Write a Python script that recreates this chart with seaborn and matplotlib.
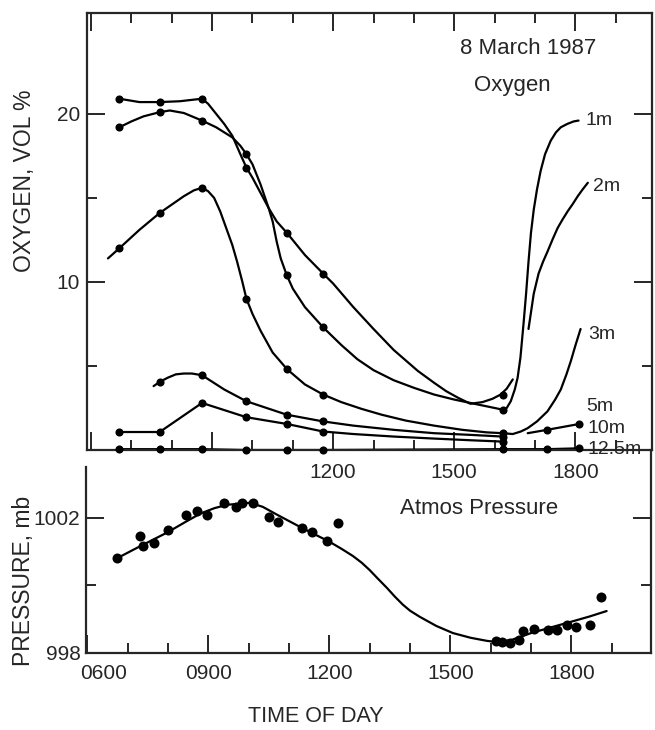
import matplotlib
matplotlib.use("Agg")
import matplotlib.pyplot as plt
import matplotlib.transforms as mtransforms
import seaborn as sns

# ---- oxygen samples (hour of day, vol %) ----
o2_times = [6.7, 7.7, 8.75, 9.85, 10.85, 11.75, 16.2, 17.3, 18.1]
o2_1m = [20.9, 20.7, 20.9, 16.8, 10.4, 7.3, 2.4]
o2_2m = [19.2, 20.1, 19.6, 17.6, 12.9, 10.5, 3.3]
o2_3m = [12.0, 14.1, 15.6, 9.0, 4.8, 3.3, 1.0]
o2_5m_times = [7.7, 8.75, 9.85, 10.85, 11.75, 16.2]
o2_5m = [4.05, 4.45, 2.9, 2.1, 1.7, 0.8]
o2_10m = [1.07, 1.07, 2.8, 1.95, 1.55, 1.1, 0.5, 1.2, 1.55]
o2_12m = [0.05, 0.05, 0.05, 0.0, 0.0, 0.0, 0.05, 0.05, 0.1]

# hand-drawn curves through the samples (vertices)
c1_t = [6.7, 7.2, 7.7, 8.2, 8.75, 8.9, 9.1, 9.3, 9.5, 9.7, 9.85, 10.0, 10.2, 10.4, 10.5,
        10.6, 10.7, 10.85, 11.0, 11.3, 11.75, 12.2, 12.6, 13.0, 13.5, 14.0, 14.5, 15.0,
        15.5, 16.0, 16.2, 16.3, 16.4, 16.5, 16.57, 16.64, 16.72, 16.78, 16.84, 16.9,
        16.97, 17.05, 17.14, 17.25, 17.39, 17.52, 17.64, 17.8, 17.96, 18.08]
c1_v = [20.9, 20.7, 20.7, 20.75, 20.9, 20.6, 20.0, 19.4, 18.7, 17.6, 16.8, 16.2, 15.3,
        14.4, 13.6, 12.4, 11.4, 10.4, 9.6, 8.5, 7.3, 6.25, 5.4, 4.75, 4.15, 3.7, 3.3, 3.0,
        2.75, 2.5, 2.4, 2.5, 2.9, 3.6, 4.3, 5.5, 7.6, 9.3, 11.2, 12.9,
        14.3, 15.5, 16.6, 17.6, 18.4, 18.9, 19.2, 19.4, 19.55, 19.6]
c2_t = [6.7, 7.0, 7.3, 7.7, 7.95, 8.3, 8.75, 9.1, 9.5, 9.7, 9.85, 10.0, 10.2, 10.4, 10.6,
        10.86, 11.3, 11.75, 12.0, 12.5, 13.0, 13.5, 14.1, 14.5, 14.8, 15.1, 15.4, 15.7,
        15.95, 16.15, 16.3, 16.45]
c2_v = [19.2, 19.55, 19.85, 20.1, 20.2, 20.05, 19.6, 19.2, 18.6, 18.1, 17.6, 17.0, 15.8,
        14.4, 13.6, 12.9, 11.6, 10.5, 9.9, 8.5, 7.2, 5.95, 4.7, 4.0, 3.5, 3.1, 2.75, 2.85,
        3.05, 3.3, 3.65, 4.2]
c2b_t = [16.84, 16.97, 17.09, 17.2, 17.31, 17.44, 17.56, 17.68, 17.81, 17.94, 18.06, 18.18,
         18.31]
c2b_v = [7.2, 9.3, 10.5, 11.2, 11.8, 12.55, 13.2, 13.7, 14.2, 14.65, 15.1, 15.5, 15.9]
c3_t = [6.42, 6.7, 7.2, 7.7, 8.0, 8.3, 8.55, 8.75, 8.9, 9.05, 9.2, 9.35, 9.5, 9.62, 9.75,
        9.85, 10.0, 10.2, 10.5, 10.86, 11.3, 11.75, 12.2, 12.7, 13.2, 13.8, 14.5, 15.2,
        15.8, 16.2, 16.45, 16.65, 16.82, 17.05, 17.31, 17.5, 17.64, 17.78, 17.89, 18.0,
        18.13]
c3_v = [11.4, 12.0, 13.1, 14.1, 14.6, 15.1, 15.45, 15.6, 15.4, 15.0, 14.2, 13.2, 12.2,
        11.2, 10.0, 9.0, 8.1, 7.1, 5.8, 4.8, 3.9, 3.3, 2.85, 2.45, 2.1, 1.75, 1.45, 1.2,
        1.05, 1.0, 0.95, 1.1, 1.3, 1.7, 2.3, 3.0, 3.6, 4.5, 5.3, 6.2,
        7.2]
c5_t = [7.55, 7.7, 7.9, 8.1, 8.3, 8.5, 8.75, 9.3, 9.85, 10.85, 11.75, 12.5, 13.5, 14.5,
        15.4, 16.2]
c5_v = [3.8, 4.05, 4.3, 4.5, 4.55, 4.55, 4.45, 3.6, 2.9, 2.1, 1.7, 1.45, 1.2, 1.0,
        0.9, 0.8]
c10_t = [6.7, 7.7, 8.75, 9.85, 10.85, 11.75, 12.5, 13.5, 14.5, 15.4, 16.2]
c10_v = [1.07, 1.07, 2.8, 1.95, 1.55, 1.1, 0.95, 0.8, 0.68, 0.58, 0.5]
c10b_t = [16.82, 17.3, 18.1]
c10b_v = [1.0, 1.2, 1.55]

depth_labels = ["1m", "2m", "3m", "5m", "10m", "12.5m"]
label_pos_t = [18.25, 18.45, 18.33, 18.26, 18.31, 18.31]
label_pos_v = [19.6, 15.7, 6.9, 2.6, 1.25, 0.05]

# ---- atmospheric pressure (hour, mb) ----
p_times = [6.74, 7.31, 7.39, 7.66, 8.0, 8.45, 8.72, 8.96, 9.39, 9.68, 9.83, 10.1, 10.5,
           10.72, 11.31, 11.58, 11.93, 12.22, 16.12, 16.27, 16.47, 16.69, 16.79, 17.06,
           17.43, 17.65, 17.88, 18.12, 18.47, 18.72]
p_vals = [1000.8, 1001.47, 1001.15, 1001.24, 1001.64, 1002.09, 1002.21, 1002.09, 1002.44,
          1002.33, 1002.44, 1002.44, 1002.03, 1001.88, 1001.7, 1001.58, 1001.32, 1001.85,
          998.36, 998.33, 998.3, 998.39, 998.65, 998.71, 998.68, 998.68, 998.83, 998.77,
          998.83, 999.66]
pc_t = [6.74, 7.14, 7.55, 7.98, 8.4, 8.8, 9.15, 9.46, 10.03, 10.35, 10.7, 11.0, 11.27,
        11.6, 12.0, 12.3, 12.58, 12.8, 13.0, 13.2, 13.43, 13.62, 13.82, 14.0, 14.24, 14.65,
        15.06, 15.5, 15.9, 16.1, 16.5, 17.0, 17.5, 17.98, 18.45, 18.87]
pc_v = [1000.8, 1001.05, 1001.3, 1001.56, 1001.85, 1002.12, 1002.28, 1002.38, 1002.44,
        1002.32, 1002.09, 1001.9, 1001.73, 1001.53, 1001.29, 1001.08, 1000.87, 1000.67,
        1000.45, 1000.2, 999.92, 999.67, 999.43, 999.25, 999.07, 998.8,
        998.59, 998.45, 998.36, 998.33, 998.38, 998.59, 998.76, 998.92, 999.08, 999.24]

hour_ticks = [6, 9, 12, 15, 18]
hour_labels = ["0600", "0900", "1200", "1500", "1800"]

sns.set_style("ticks")
plt.rcParams["font.family"] = ["Liberation Sans", "DejaVu Sans"]

fig = plt.figure(figsize=(6.55, 7.3), dpi=100)
ax1 = fig.add_axes([87 / 655, 1 - 450 / 730, 565 / 655, 437 / 730])
ax2 = fig.add_axes([86 / 655, 1 - 653 / 730, 565 / 655, 203 / 730])
ax2.patch.set_visible(False)

lw = 1.6
kw_line = dict(color="black", linewidth=lw, sort=False, estimator=None, legend=False)
kw_dot = dict(color="black", s=34, edgecolor="black", linewidth=0, legend=False,
              clip_on=False, zorder=5)

# oxygen curves
for t, v in [(c1_t, c1_v), (c2_t, c2_v), (c2b_t, c2b_v), (c3_t, c3_v),
             (c5_t, c5_v), (c10_t, c10_v), (c10b_t, c10b_v), (o2_times, o2_12m)]:
    sns.lineplot(x=t, y=v, ax=ax1, **kw_line)

for t, v in [(o2_times[:7], o2_1m), (o2_times[:7], o2_2m), (o2_times[:7], o2_3m),
             (o2_5m_times, o2_5m), (o2_times, o2_10m), (o2_times, o2_12m)]:
    sns.scatterplot(x=t, y=v, ax=ax1, **kw_dot)

for lab, t, v in zip(depth_labels, label_pos_t, label_pos_v):
    ax1.text(t, v, lab, fontsize=14, ha="left", va="center")

ax1.text(0.78, 0.918, "8 March 1987", transform=ax1.transAxes, fontsize=16,
         ha="center", va="center")
ax1.text(0.753, 0.834, "Oxygen", transform=ax1.transAxes, fontsize=16,
         ha="center", va="center")

ax1.set_xlim(5.9, 19.9)
ax1.set_ylim(0, 26)
ax1.set_xticks(hour_ticks, ["", ""] + hour_labels[2:])
ax1.set_xticks(range(6, 20), minor=True)
ax1.set_yticks([10, 20])
ax1.set_yticks([5, 15], minor=True)
ax1.set_xlabel("")
ax1.set_ylabel("")

# pressure
sns.lineplot(x=pc_t, y=pc_v, ax=ax2, **kw_line)
sns.scatterplot(x=p_times, y=p_vals, ax=ax2, color="black", s=52, linewidth=0,
                legend=False, zorder=5)
ax2.text(0.696, 0.714, "Atmos Pressure", transform=ax2.transAxes, fontsize=16,
         ha="center", va="center")
ax2.set_xlim(5.97, 19.97)
ax2.set_ylim(998, 1004.0)
ax2.set_xticks(hour_ticks, hour_labels)
ax2.set_xticks(range(6, 20), minor=True)
ax2.set_yticks([998, 1002])
ax2.set_yticks([1000], minor=True)
ax2.set_xlabel("")
ax2.set_ylabel("")
ax2.spines["top"].set_visible(False)
ax2.spines["left"].set_bounds(998, 1003.5)

for ax in (ax1, ax2):
    for s in ax.spines.values():
        s.set_linewidth(1.6)
    ax.tick_params(which="both", direction="in", right=True, width=1.4, labelsize=15)
    ax.tick_params(which="major", length=13)
    ax.tick_params(which="minor", length=7)
ax1.tick_params(axis="x", which="both", top=True, pad=9)
ax1.tick_params(axis="y", pad=5)
ax2.tick_params(axis="x", which="both", top=False, pad=8)
ax2.tick_params(axis="y", pad=4)

# nudge the first time label off the spine
shift = mtransforms.ScaledTranslation(16 / 100, 0, fig.dpi_scale_trans)
first = ax2.get_xticklabels()[0]
first.set_transform(first.get_transform() + shift)

fig.text(25 / 655, 1 - 181 / 730, "OXYGEN, VOL %", rotation=90, fontsize=16.5,
         ha="center", va="center")
fig.text(24 / 655, 1 - 581 / 730, "PRESSURE, mb", rotation=90, fontsize=16.5,
         ha="center", va="center")
fig.text(316 / 655, 1 - 717 / 730, "TIME OF DAY", fontsize=15.5, ha="center", va="center")

fig.savefig("out.png", dpi=100)
